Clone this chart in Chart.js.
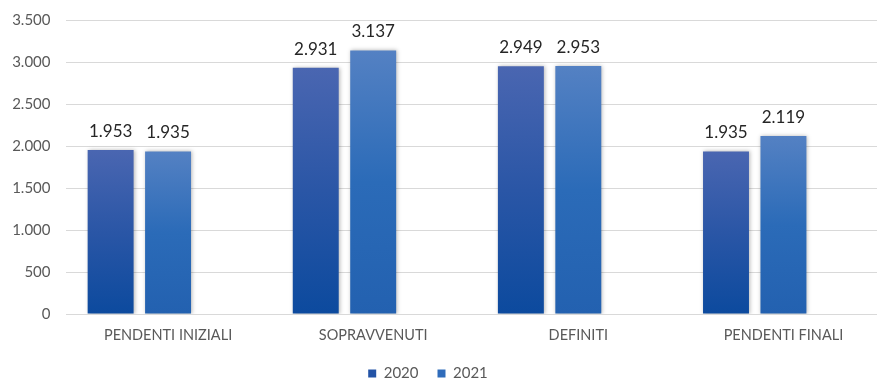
<!DOCTYPE html>
<html lang="it">
<head>
<meta charset="utf-8">
<script src="https://cdn.jsdelivr.net/npm/chart.js@4.4.1/dist/chart.umd.min.js"></script>
<style>
  html, body { margin: 0; padding: 0; background: #fff; }
  #contenitore { position: relative; width: 877px; height: 379px; overflow: hidden; }
  #grafico { position: absolute; left: -30px; top: 0; }
</style>
</head>
<body>
<div id="contenitore"><canvas id="grafico" width="916" height="391"></canvas></div>
<script>
const categorie = ["PENDENTI INIZIALI", "SOPRAVVENUTI", "DEFINITI", "PENDENTI FINALI"];
const anni = ["2020", "2021"];
const valori2020 = [1953, 2931, 2949, 1935];
const valori2021 = [1935, 3137, 2953, 2119];
const vuoto = [null, null, null, null];
const tickY = [0, 500, 1000, 1500, 2000, 2500, 3000, 3500];

const FONT = "Lato, 'Open Sans', sans-serif";

// 1953 -> "1.953"
function formatta(n) {
  return String(n).replace(/\B(?=(\d{3})+(?!\d))/g, ".");
}

// gradiente verticale per ogni barra, dal top della barra fino allo zero
function sfumatura(stops) {
  return (c) => {
    const y = c.chart.scales.y;
    if (c.type !== "data" || c.raw == null || !y) return stops[1][1];
    const top = y.getPixelForValue(c.raw);
    const base = y.getPixelForValue(0);
    const g = c.chart.ctx.createLinearGradient(0, top, 0, base);
    stops.forEach(([p, col]) => g.addColorStop(p, col));
    return g;
  };
}

const ombraBarre = {
  id: "ombraBarre",
  beforeDatasetsDraw(chart) {
    const ctx = chart.ctx;
    ctx.save();
    ctx.shadowColor = "rgba(0,0,0,0.28)";
    ctx.shadowBlur = 4;
    ctx.shadowOffsetX = 1;
    ctx.shadowOffsetY = 0;
  },
  afterDatasetsDraw(chart) {
    chart.ctx.restore();
  }
};

const etichetteValori = {
  id: "etichetteValori",
  afterDatasetsDraw(chart) {
    const ctx = chart.ctx;
    ctx.save();
    ctx.font = "17px " + FONT;
    ctx.fillStyle = "#262626";
    ctx.textAlign = "center";
    ctx.textBaseline = "alphabetic";
    chart.data.datasets.forEach((ds, i) => {
      if (!ds.label) return;
      chart.getDatasetMeta(i).data.forEach((bar, j) => {
        const v = ds.data[j];
        if (v == null) return;
        ctx.fillText(formatta(v), bar.x, bar.y - 13);
      });
    });
    ctx.restore();
  }
};

new Chart(document.getElementById("grafico"), {
  type: "bar",
  data: {
    labels: categorie,
    datasets: [
      {
        label: anni[0],
        data: valori2020,
        backgroundColor: sfumatura([[0, "#4a66b1"], [0.5, "#2a56a6"], [1, "#0c4a9e"]]),
        legendColor: "#2353a6"
      },
      {
        label: anni[1],
        data: valori2021,
        backgroundColor: sfumatura([[0, "#5481c3"], [0.5, "#2b6bb8"], [1, "#2361b0"]]),
        legendColor: "#2f6cbb"
      },
      { label: "", data: vuoto, backgroundColor: "rgba(0,0,0,0)" }
    ]
  },
  options: {
    responsive: false,
    animation: false,
    categoryPercentage: 0.84,
    barPercentage: 0.8,
    layout: { padding: { top: 20, right: 0, bottom: 0, left: 0 } },
    scales: {
      x: {
        grid: { display: false, drawTicks: false },
        border: { display: false },
        ticks: { color: "#595959", font: { family: FONT, size: 14.5 }, padding: 13, maxRotation: 0 },
        afterFit(scale) { scale.height = 33; }
      },
      y: {
        min: 0,
        max: 3500,
        afterBuildTicks(scale) { scale.ticks = tickY.map(v => ({ value: v })); },
        grid: { color: "#d9d9d9", lineWidth: 1, drawTicks: false },
        border: { display: false },
        ticks: {
          color: "#595959",
          font: { family: FONT, size: 15 },
          padding: 15,
          callback: (v) => formatta(v)
        },
        afterFit(scale) {
          scale.width = 95.5;
          scale.paddingTop = 0;
          scale.paddingBottom = 0;
        }
      }
    },
    plugins: {
      tooltip: { enabled: false },
      legend: {
        position: "bottom",
        labels: {
          boxWidth: 8,
          boxHeight: 8,
          padding: 19,
          color: "#595959",
          font: { family: FONT, size: 15 },
          filter: (item) => item.text !== "",
          generateLabels(chart) {
            return chart.data.datasets.map((ds, i) => ({
              text: ds.label,
              fillStyle: ds.legendColor,
              strokeStyle: ds.legendColor,
              lineWidth: 0,
              fontColor: "#595959",
              datasetIndex: i,
              hidden: false
            }));
          }
        }
      }
    }
  },
  plugins: [ombraBarre, etichetteValori]
});
</script>
</body>
</html>
